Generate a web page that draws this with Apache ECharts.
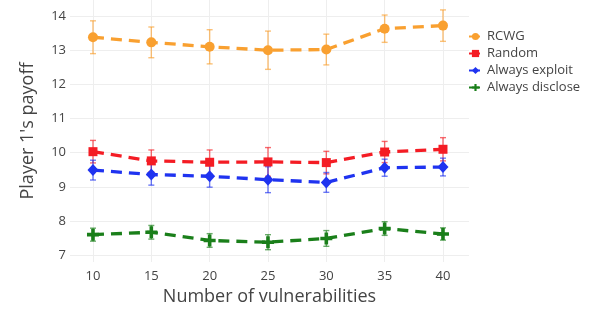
<!DOCTYPE html>
<html>
<head>
<meta charset="utf-8">
<script src="https://cdn.jsdelivr.net/npm/echarts@6/dist/echarts.min.js"></script>
<style>
    html, body { margin: 0; padding: 0; background: #fff; }
    #chart { width: 591px; height: 312px; }
</style>
</head>
<body>
<div id="chart"></div>
<script>
// 横轴：漏洞数量
const vulnerabilities = [10, 15, 20, 25, 30, 35, 40];
const yTicks = [7, 8, 9, 10, 11, 12, 13, 14];

// 各策略平均收益 & 误差
const rcwg = [13.38, 13.23, 13.10, 13.00, 13.02, 13.63, 13.72];
const rcwgErr = [0.48, 0.45, 0.50, 0.56, 0.45, 0.40, 0.46];
const random = [10.03, 9.76, 9.72, 9.73, 9.71, 10.02, 10.10];
const randomErr = [0.33, 0.32, 0.36, 0.42, 0.33, 0.31, 0.34];
const exploit = [9.49, 9.36, 9.31, 9.21, 9.13, 9.56, 9.58];
const exploitErr = [0.29, 0.31, 0.32, 0.38, 0.29, 0.25, 0.26];
const disclose = [7.60, 7.67, 7.43, 7.38, 7.49, 7.78, 7.62];
const discloseErr = [0.19, 0.20, 0.20, 0.22, 0.23, 0.20, 0.18];

const seriesDefs = [
    { name: 'RCWG', values: rcwg, err: rcwgErr, color: '#F9A030', symbol: 'circle', size: 10 },
    { name: 'Random', values: random, err: randomErr, color: '#F41C24', symbol: 'rect', size: 9 },
    { name: 'Always exploit', values: exploit, err: exploitErr, color: '#1F33F0', symbol: 'diamond', size: [11, 12] },
    { name: 'Always disclose', values: disclose, err: discloseErr, color: '#1A7F1A', symbol: 'path://M3.5,0H6.5V3.5H10V6.5H6.5V10H3.5V6.5H0V3.5H3.5Z', size: 12 }
];

function errorBarRender(color) {
    return function(params, api) {
        const x = api.value(0);
        const top = api.coord([x, api.value(2)]);
        const bot = api.coord([x, api.value(1)]);
        const style = { stroke: color, lineWidth: 1.4, opacity: 0.65 };
        return {
            type: 'group',
            children: [
                { type: 'line', shape: { x1: top[0], y1: top[1], x2: bot[0], y2: bot[1] }, style: style },
                { type: 'line', shape: { x1: top[0] - 3, y1: top[1], x2: top[0] + 3, y2: top[1] }, style: style },
                { type: 'line', shape: { x1: bot[0] - 3, y1: bot[1], x2: bot[0] + 3, y2: bot[1] }, style: style }
            ]
        };
    };
}

const series = [];
seriesDefs.forEach(s => {
    series.push({
        name: s.name + ' err',
        type: 'custom',
        renderItem: errorBarRender(s.color),
        data: vulnerabilities.map((x, i) => [x, s.values[i] - s.err[i], s.values[i] + s.err[i]]),
        z: 1,
        silent: true
    });
});
seriesDefs.forEach(s => {
    series.push({
        name: s.name,
        type: 'line',
        data: vulnerabilities.map((x, i) => [x, s.values[i]]),
        symbol: s.symbol,
        symbolSize: s.size,
        showAllSymbol: true,
        itemStyle: { color: s.color, opacity: 1 },
        lineStyle: { color: s.color, width: 3.3, type: [11, 7] },
        z: 2
    });
});

const eChart = echarts.init(document.getElementById('chart'));
const option = {
    animation: false,
    textStyle: { fontFamily: 'Open Sans' },
    grid: {
        left: 70,
        right: 122,
        top: 0,
        bottom: 50
    },
    legend: {
        data: seriesDefs.map(s => s.name),
        orient: 'vertical',
        left: 463,
        top: 25,
        itemWidth: 13,
        itemHeight: 9,
        itemGap: 4,
        textStyle: { color: '#444', fontSize: 13, fontFamily: 'Open Sans' }
    },
    xAxis: {
        type: 'value',
        min: 8.03,
        max: 42.23,
        name: 'Number of vulnerabilities',
        nameLocation: 'middle',
        nameGap: 26,
        nameTextStyle: { color: '#444', fontSize: 18, fontFamily: 'Open Sans' },
        axisLine: { show: false },
        axisTick: { show: false, customValues: vulnerabilities },
        axisLabel: { customValues: vulnerabilities, color: '#444', fontSize: 13, margin: 8 },
        splitLine: { show: true, lineStyle: { color: '#eeeeee', width: 1 } }
    },
    yAxis: {
        type: 'value',
        min: 6.8,
        max: 14.47,
        name: "Player 1's payoff",
        nameLocation: 'middle',
        nameGap: 33,
        nameTextStyle: { color: '#444', fontSize: 18, fontFamily: 'Open Sans' },
        axisLine: { show: false },
        axisTick: { show: false, customValues: yTicks },
        axisLabel: { customValues: yTicks, color: '#444', fontSize: 13, margin: 4 },
        splitLine: { show: true, lineStyle: { color: '#eeeeee', width: 1 } }
    },
    series: series
};
eChart.setOption(option);
</script>
</body>
</html>
